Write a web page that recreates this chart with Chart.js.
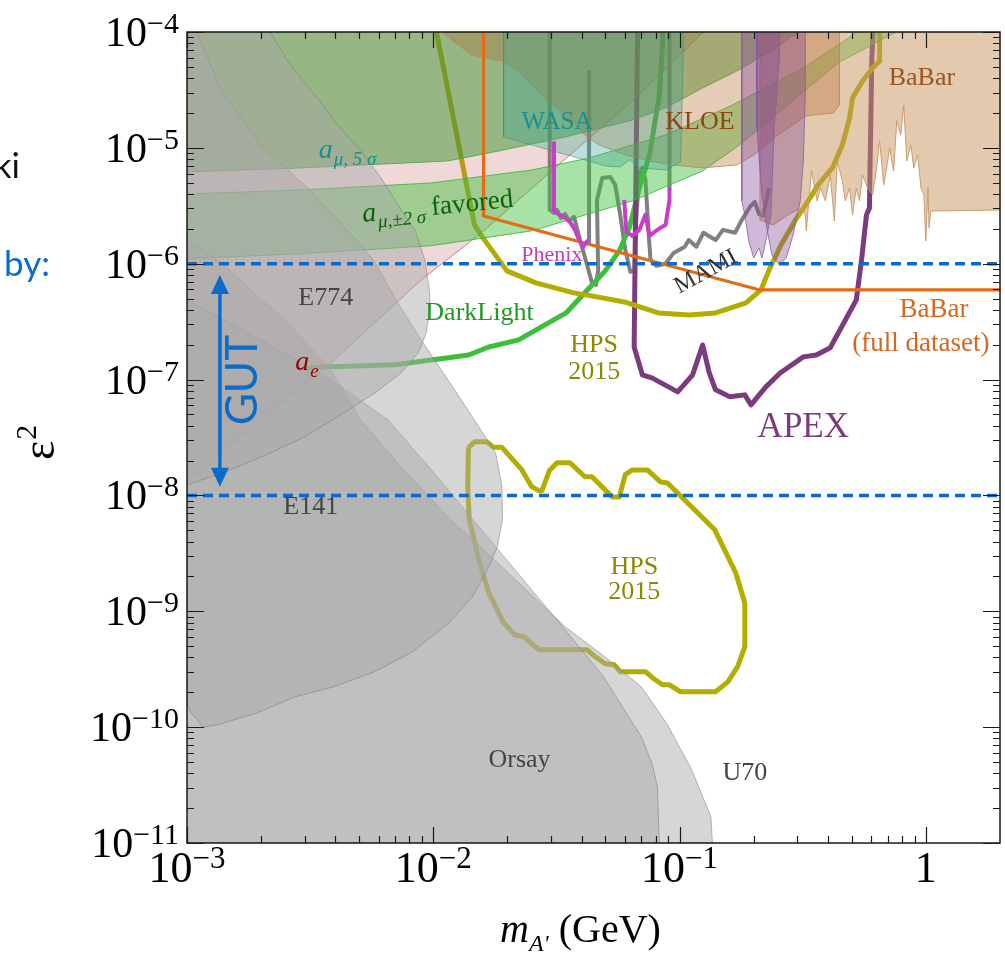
<!DOCTYPE html>
<html>
<head>
<meta charset="utf-8">
<script src="https://cdn.jsdelivr.net/npm/chart.js@4.4.1/dist/chart.umd.min.js"></script>
<style>
  body { margin: 0; background: #fff; }
  canvas { display: block; }
</style>
</head>
<body>
<canvas id="chart" width="1005" height="956"></canvas>
<script>
// ---- axes
const xRange = [1e-3, 2];
const yRange = [1e-11, 1e-4];
const xTickPowers = [-3, -2, -1, 0];
const yTickPowers = [-4, -5, -6, -7, -8, -9, -10, -11];
const gutLevels = [1e-6, 1e-8];

// ---- excluded regions, [mass GeV, eps^2]
const e774 = [[1e-3,1e-4],[2.18e-3,1e-4],[2.56e-3,5.62e-5],[3.30e-3,2.86e-5],[4.09e-3,1.58e-5],[5.08e-3,9.4e-6],[6.14e-3,5.5e-6],[7.20e-3,3.21e-6],[8.45e-3,1.92e-6],[9.27e-3,1.06e-6],[9.63e-3,5.94e-7],[9.73e-3,4.24e-7],[9.36e-3,2.53e-7],[8.69e-3,1.70e-7],[7.40e-3,1.14e-7],[5.80e-3,7.67e-8],[4.09e-3,4.77e-8],[3.0e-3,3.2e-8],[2.18e-3,2.33e-8],[1.5e-3,1.66e-8],[1e-3,1.23e-8]];
const e141 = [[1.10e-3,1e-4],[1.36e-3,3.29e-5],[1.99e-3,1.06e-5],[3.09e-3,4.51e-6],[5.08e-3,1.45e-6],[5.74e-3,1.06e-6],[7.06e-3,4.87e-7],[8.93e-3,2.2e-7],[1.22e-2,8.15e-8],[1.53e-2,3.91e-8],[1.79e-2,2.33e-8],[1.90e-2,1.19e-8],[1.91e-2,6.16e-9],[1.82e-2,3.60e-9],[1.66e-2,2.28e-9],[1.44e-2,1.33e-9],[1.16e-2,7.96e-10],[8.13e-3,4.39e-10],[5.64e-3,2.94e-10],[3.94e-3,2.23e-10],[2.76e-3,1.83e-10],[1.93e-3,1.33e-10],[1.34e-3,1.05e-10],[1.16e-3,1.0e-10],[1.04e-3,1.33e-10],[1e-3,1.62e-10],[1e-3,1e-4]];
const u70 = [[1e-3,1.60e-6],[1.36e-3,1.04e-6],[2.56e-3,3.08e-7],[3.84e-3,1.21e-7],[5.08e-3,4.49e-8],[7.40e-3,1.77e-8],[1.18e-2,6.15e-9],[1.90e-2,2.42e-9],[3.43e-2,7.35e-10],[4.85e-2,4.22e-10],[7.0e-2,2.23e-10],[8.93e-2,1.05e-10],[0.112,4.29e-11],[0.134,1.69e-11],[0.136,1e-11],[1e-3,1e-11]];
const orsay = [[1e-3,4.87e-7],[1.99e-3,2.2e-7],[3.84e-3,9.93e-8],[6.55e-3,4.49e-8],[9.82e-3,1.66e-8],[1.57e-2,5.05e-9],[2.51e-2,1.53e-9],[3.43e-2,6.92e-10],[4.85e-2,2.83e-10],[7.0e-2,8.26e-11],[7.76e-2,4.74e-11],[8.13e-2,3.06e-11],[8.28e-2,1e-11],[1e-3,1e-11]];
const apexTestA = [[0.179,1e-4],[0.179,3.48e-6],[0.184,2.64e-6],[0.191,1.57e-6],[0.200,1.12e-6],[0.210,1.37e-6],[0.216,1.12e-6],[0.224,1.57e-6],[0.235,2.64e-6],[0.242,1.49e-5],[0.254,5.62e-5],[0.256,1e-4]];
const apexTestB = [[0.206,1e-4],[0.206,1.49e-5],[0.216,3.92e-6],[0.226,2.04e-6],[0.237,1.19e-6],[0.254,9.8e-7],[0.271,1.12e-6],[0.289,1.77e-6],[0.309,3.48e-6],[0.318,7.71e-6],[0.324,2.86e-5],[0.324,1e-4]];
const wasa = [[1.93e-2,1e-4],[1.93e-2,1.24e-5],[2.76e-2,1e-5],[4.13e-2,7.87e-6],[4.99e-2,6.98e-6],[5.74e-2,6.84e-6],[6.25e-2,7.87e-6],[6.87e-2,6.71e-6],[8.77e-2,6.44e-6],[0.101,7.55e-6],[0.104,1e-4]];
const kloe = [[1.08e-2,1e-4],[1.43e-2,6.34e-5],[1.90e-2,5.62e-5],[2.22e-2,4.61e-5],[2.76e-2,2.86e-5],[3.43e-2,1.92e-5],[4.13e-2,1.29e-5],[4.71e-2,1.06e-5],[6.02e-2,8.69e-6],[7.55e-2,7.71e-6],[9.36e-2,7.12e-6],[0.124,6.71e-6],[0.171,7.12e-6],[0.200,8.69e-6],[0.251,1.29e-5],[0.324,1.88e-5],[0.421,2.0e-5],[0.446,2.34e-5],[0.446,1e-4]];
const babar = [[2.0,2.91e-6],[1.047,2.85e-6],[1.03,2.04e-6],[1.02,4.51e-6],[1.0,1.57e-6],[0.982,3.92e-6],[0.955,4.51e-6],[0.927,8.69e-6],[0.893,6.71e-6],[0.869,1.06e-5],[0.836,7.71e-6],[0.813,2.34e-5],[0.791,1.29e-5],[0.762,1.71e-5],[0.740,6.32e-6],[0.713,1.0e-5],[0.693,6.71e-6],[0.674,4.79e-6],[0.649,1.15e-5],[0.631,6.71e-6],[0.608,3.92e-6],[0.580,4.51e-6],[0.553,5.83e-6],[0.538,3.48e-6],[0.522,4.51e-6],[0.504,2.64e-6],[0.490,4.51e-6],[0.471,3.48e-6],[0.458,5.18e-6],[0.437,7.71e-6],[0.425,2.34e-6],[0.409,5.83e-6],[0.391,3.48e-6],[0.373,4.51e-6],[0.362,3.48e-6],[0.343,6.32e-6],[0.327,1.92e-6],[0.324,2.64e-6],[0.312,3.03e-6],[0.276,2.64e-6],[0.240,2.16e-6],[0.212,2.39e-6],[0.212,1e-4],[2.0,1e-4]];

// ---- g-2 bands and a_e
const amu5sigma = [[1e-3,6.19e-6],[2.89e-3,6.71e-6],[1.15e-2,7.71e-6],[1.84e-2,9.4e-6],[3.43e-2,1.24e-5],[6.43e-2,1.74e-5],[8.77e-2,2.21e-5],[0.124,3.29e-5],[0.171,4.61e-5],[0.235,6.86e-5],[0.324,1.08e-4],[1e-3,1.08e-4]];
const amuFavUpper = [[1e-3,4.0e-6],[2.89e-3,4.33e-6],[9.82e-3,4.98e-6],[2.51e-2,6.44e-6],[4.29e-2,8.18e-6],[8.77e-2,1.29e-5],[0.164,2.34e-5],[0.318,4.89e-5],[0.558,1.08e-4]];
const amuFavLower = [[1e-3,1.10e-6],[2.89e-3,1.22e-6],[9.82e-3,1.43e-6],[2.51e-2,1.92e-6],[6.43e-2,3.48e-6],[0.124,6.32e-6],[0.171,1.02e-5],[0.235,1.77e-5],[0.324,3.16e-5],[0.446,5.51e-5],[0.813,1.08e-4]];
const aeEdge = [[1e-3,1.31e-8],[3.84e-3,1.39e-7],[8.93e-3,7.25e-7],[1.57e-2,1.85e-6],[3.12e-2,6.71e-6],[6.61e-2,2.70e-5],[0.125,1e-4],[1e-3,1e-4]];

// ---- reach curves
const hpsUpper = [[0.0103,1e-4],[0.0147,2.16e-6],[0.0157,1.74e-6],[0.0199,8.67e-7],[0.0261,6.83e-7],[0.0372,5.6e-7],[0.0462,5.17e-7],[0.0597,4.68e-7],[0.082,3.76e-7],[0.109,3.61e-7],[0.140,3.76e-7],[0.186,4.59e-7],[0.214,5.94e-7],[0.231,8.84e-7],[0.258,1.45e-6],[0.294,2.34e-6],[0.333,3.48e-6],[0.365,4.79e-6],[0.417,6.71e-6],[0.458,1.06e-5],[0.490,1.81e-5],[0.504,2.7e-5],[0.553,3.78e-5],[0.608,4.89e-5],[0.649,5.62e-5],[0.649,1e-4]];
const hpsLower = [[0.0139,2.6e-8],[0.0147,2.9e-8],[0.0165,2.9e-8],[0.0176,2.6e-8],[0.0190,2.6e-8],[0.0229,1.66e-8],[0.0251,1.19e-8],[0.0268,1.1e-8],[0.0276,1.1e-8],[0.0297,1.66e-8],[0.0318,1.91e-8],[0.0359,1.91e-8],[0.0413,1.45e-8],[0.0441,1.45e-8],[0.0533,9.7e-9],[0.0569,9.7e-9],[0.0602,1.51e-8],[0.0643,1.66e-8],[0.074,1.66e-8],[0.0836,1.31e-8],[0.0893,1.28e-8],[0.139,5.05e-9],[0.169,2.15e-9],[0.184,1.18e-9],[0.184,4.94e-10],[0.172,3.32e-10],[0.157,2.46e-10],[0.140,2.02e-10],[0.101,2.02e-10],[0.091,2.32e-10],[0.0852,2.32e-10],[0.0776,2.67e-10],[0.0727,3.01e-10],[0.0574,3.01e-10],[0.0543,3.45e-10],[0.0499,3.52e-10],[0.0454,4.05e-10],[0.0421,4.66e-10],[0.0268,4.66e-10],[0.0233,6.03e-10],[0.0214,6.27e-10],[0.0193,7.96e-10],[0.0168,1.44e-9],[0.0153,2.78e-9],[0.0140,6.16e-9],[0.0138,1.19e-8],[0.0139,2.6e-8]];
const apex = [[0.0675,1e-4],[0.0654,1.91e-7],[0.0706,1.10e-7],[0.0776,1.03e-7],[0.0982,7.83e-8],[0.113,1.10e-7],[0.124,1.99e-7],[0.132,1.14e-7],[0.140,8.15e-8],[0.160,7.1e-8],[0.184,7.38e-8],[0.195,6.05e-8],[0.224,8.65e-8],[0.256,1.14e-7],[0.318,1.57e-7],[0.359,1.63e-7],[0.409,1.88e-7],[0.522,4.87e-7],[0.548,1.08e-6],[0.574,2.64e-6],[0.59,3.03e-6],[0.603,5.62e-5],[0.61,1e-4]];
const darkLight = [[2.94e-3,1.26e-7],[3.84e-3,1.29e-7],[7.0e-3,1.34e-7],[0.0115,1.54e-7],[0.0139,1.63e-7],[0.0168,1.91e-7],[0.0222,2.2e-7],[0.0346,3.76e-7],[0.0441,6.56e-7],[0.0499,8.67e-7],[0.0569,1.29e-6],[0.0625,2.04e-6],[0.0687,4.51e-6],[0.0755,8.69e-6],[0.0828,2.86e-5],[0.0853,7.7e-5],[0.0853,1e-4]];
const babarFull = [[0.016,1e-4],[0.016,2.58e-6],[0.212,5.94e-7],[2.0,5.94e-7]];
const mami = [[0.0297,1e-4],[0.0297,2.91e-6],[0.0309,2.74e-6],[0.0318,2.91e-6],[0.0330,2.48e-6],[0.0343,2.69e-6],[0.0356,2.34e-6],[0.0373,2.54e-6],[0.0394,1.60e-6],[0.0421,9.8e-7],[0.0441,6.83e-7],[0.0458,6.56e-7],[0.0467,8.84e-7],[0.0462,3.55e-6],[0.0485,5.5e-6],[0.0523,5.61e-6],[0.0548,4.79e-6],[0.0574,2.64e-6],[0.0602,1.32e-6],[0.0631,8.5e-7],[0.0655,8.84e-7],[0.0667,2.39e-6],[0.0687,6.19e-6],[0.0706,6.71e-6],[0.0727,5.28e-6],[0.0747,1.96e-6],[0.0762,1.08e-6],[0.0805,9.57e-7],[0.0877,1.0e-6],[0.0946,1.24e-6],[0.105,1.40e-6],[0.109,1.60e-6],[0.117,1.40e-6],[0.125,1.85e-6],[0.140,1.60e-6],[0.150,1.96e-6],[0.168,1.85e-6],[0.179,2.39e-6],[0.193,3.09e-6],[0.202,3.41e-6],[0.210,2.69e-6],[0.218,2.58e-6],[0.231,4.51e-6]];
const mamiStubA = [[0.0429,4.52e-5],[0.0429,1.5e-6]];
const mamiStubB = [[0.0910,1e-4],[0.0910,4.51e-6]];
const phenixA = [[0.0309,1.10e-5],[0.0309,2.91e-6],[0.0321,2.69e-6],[0.0339,2.54e-6],[0.0359,2.29e-6],[0.0376,1.96e-6],[0.0391,1.60e-6],[0.0406,1.40e-6],[0.0425,1.60e-6]];
const phenixB = [[0.0596,3.55e-6],[0.0608,1.88e-6],[0.0643,1.74e-6],[0.0687,1.96e-6],[0.0727,2.64e-6],[0.0755,1.74e-6],[0.0791,1.88e-6],[0.0836,2.04e-6],[0.0877,2.16e-6],[0.0910,3.55e-6],[0.0910,4.51e-6]];

// ---- text placed on the plot (data coords)
const plotLabels = [
  {text: 'WASA', at: [0.0318, 1.67e-5], color: '#17908f', size: 25},
  {text: 'KLOE', at: [0.121, 1.67e-5], color: '#8a4710', size: 26},
  {text: 'BaBar', at: [0.964, 4.01e-5], color: '#9a5520', size: 26},
  {text: 'Phenix', at: [0.0303, 1.19e-6], color: '#c43cc4', size: 22},
  {text: 'MAMI', at: [0.128, 8.5e-7], color: '#333', size: 24, rot: -0.5},
  {text: 'E774', at: [3.66e-3, 5.07e-7], color: '#444', size: 26},
  {text: 'DarkLight', at: [0.0154, 3.76e-7], color: '#1f991f', size: 26},
  {text: 'HPS', at: [0.045, 1.99e-7], color: '#8c8800', size: 26},
  {text: '2015', at: [0.045, 1.16e-7], color: '#8c8800', size: 26},
  {text: 'BaBar', at: [1.08, 3.99e-7], color: '#d2691e', size: 27},
  {text: '(full dataset)', at: [0.955, 2.03e-7], color: '#d2691e', size: 27},
  {text: 'APEX', at: [0.318, 3.83e-8], color: '#7d3b7f', size: 35},
  {text: 'E141', at: [3.18e-3, 7.97e-9], color: '#444', size: 26},
  {text: 'HPS', at: [0.0655, 2.42e-9], color: '#8c8800', size: 26},
  {text: '2015', at: [0.0655, 1.47e-9], color: '#8c8800', size: 26},
  {text: 'Orsay', at: [0.0224, 5.23e-11], color: '#444', size: 26},
  {text: 'U70', at: [0.184, 4.04e-11], color: '#444', size: 26}
];
const gutArrow = {m: 1.36e-3, top: 8.0e-7, bottom: 1.19e-8, textAt: [1.69e-3, 9.9e-8]};

const SERIF = '"Liberation Serif", "Times New Roman", serif';
const SANS = 'Lato, "Open Sans", sans-serif';
const BLUE = '#0a6cc8';

const toPts = arr => arr.map(([m, e]) => ({x: m, y: e}));
function region(data, fill, edge) {
  return {data: toPts(data), fill: 'shape', backgroundColor: fill, borderColor: edge,
          borderWidth: 1, pointRadius: 0, tension: 0};
}
function curve(data, color, width, dash) {
  return {data: toPts(data), fill: false, borderColor: color, borderWidth: width,
          borderDash: dash || [], pointRadius: 0, tension: 0,
          borderJoinStyle: 'round', borderCapStyle: 'butt'};
}

// light translucent grey: lightens and greys out whatever lies below
const grey = 'rgba(168,168,168,0.47)', greyEdge = 'rgba(120,120,120,0.5)';
const datasets = [
  curve([[xRange[0], gutLevels[0]], [xRange[1], gutLevels[0]]], BLUE, 3.5, [10, 6]),
  curve([[xRange[0], gutLevels[1]], [xRange[1], gutLevels[1]]], BLUE, 3.5, [10, 6]),
  curve(phenixA, '#c83cc8', 4),
  curve(phenixB, '#c83cc8', 4),
  curve(babarFull, '#e36c14', 3.2),
  region(e774, grey, greyEdge),
  region(e141, grey, greyEdge),
  region(orsay, grey, greyEdge),
  region(u70, grey, greyEdge),
  region(apexTestA, 'rgba(130,70,150,0.38)', 'rgba(140,90,160,0.8)'),
  region(apexTestB, 'rgba(130,70,150,0.38)', 'rgba(140,90,160,0.8)'),
  region(wasa, 'rgba(60,165,145,0.35)', 'rgba(60,150,120,0.6)'),
  region(kloe, 'rgba(180,110,50,0.35)', 'rgba(190,130,90,0.8)'),
  region(babar, 'rgba(200,150,95,0.5)', 'rgba(200,150,100,0.9)'),
  region(amu5sigma, 'rgba(60,150,50,0.5)', 'rgba(60,170,60,0.8)'),
  region(amuFavUpper.concat(amuFavLower.slice().reverse()), 'rgba(60,190,60,0.45)', 'rgba(50,180,50,0.8)'),
  region(aeEdge, 'rgba(200,100,100,0.25)', 'rgba(190,100,100,0.8)'),
  curve(hpsLower, '#b3ad00', 5),
  curve(hpsUpper, '#b3ad00', 5),
  curve(apex, '#7d3b7f', 5),
  curve(darkLight, '#3cc03c', 5),
  curve(mami, '#808080', 4),
  curve(mamiStubA, '#808080', 4),
  curve(mamiStubB, '#808080', 4)
];

function powerLabel(ctx, p, x, y, align, big, small, raise) {
  ctx.textAlign = 'left';
  ctx.font = `${big}px ${SERIF}`;
  if (p === 0) {
    const w = ctx.measureText('1').width;
    ctx.fillText('1', align === 'right' ? x - w : x - w / 2, y);
    return;
  }
  const base = '10', sup = '\u2212' + Math.abs(p);
  const wb = ctx.measureText(base).width;
  ctx.font = `${small}px ${SERIF}`;
  const ws = ctx.measureText(sup).width;
  const x0 = align === 'right' ? x - wb - ws : x - (wb + ws) / 2;
  ctx.font = `${big}px ${SERIF}`;
  ctx.fillText(base, x0, y);
  ctx.font = `${small}px ${SERIF}`;
  ctx.fillText(sup, x0 + wb, y - raise);
}

function subLabel(ctx, x, y, main, sub, tail, color, rot) {
  ctx.save();
  ctx.translate(x, y);
  ctx.rotate(rot || 0);
  ctx.fillStyle = color;
  ctx.textAlign = 'left';
  ctx.textBaseline = 'alphabetic';
  ctx.font = `italic 28px ${SERIF}`;
  ctx.fillText(main, 0, 0);
  let w = ctx.measureText(main).width;
  ctx.font = `italic 19px ${SERIF}`;
  ctx.fillText(sub, w + 1, 7);
  w += ctx.measureText(sub).width + 1;
  if (tail) {
    ctx.font = `27px ${SERIF}`;
    ctx.fillText(tail, w + 6, 0);
  }
  ctx.restore();
}

const overlay = {
  id: 'overlay',
  afterDatasetsDraw(chart) {
    const {ctx, chartArea: a, scales: {x: xs, y: ys}} = chart;
    const px = v => xs.getPixelForValue(v), py = v => ys.getPixelForValue(v);
    ctx.save();

    // frame and inward ticks
    ctx.strokeStyle = '#1a1a1a';
    ctx.lineWidth = 1.5;
    ctx.strokeRect(a.left, a.top, a.right - a.left, a.bottom - a.top);
    ctx.lineWidth = 1.2;
    ctx.beginPath();
    for (let p = -3; p <= 0; p++) {
      for (let k = 1; k < 10; k++) {
        const v = k * 10 ** p;
        if (v >= xRange[1]) break;
        const x = Math.round(px(v)) + 0.5, len = k === 1 ? 16 : 7;
        ctx.moveTo(x, a.bottom); ctx.lineTo(x, a.bottom - len);
        ctx.moveTo(x, a.top); ctx.lineTo(x, a.top + len);
      }
    }
    for (let p = -11; p <= -4; p++) {
      for (let k = 1; k < 10; k++) {
        if (p === -4 && k > 1) break;
        const y = Math.round(py(k * 10 ** p)) + 0.5, len = k === 1 ? 17 : 7;
        ctx.moveTo(a.left, y); ctx.lineTo(a.left + len, y);
        ctx.moveTo(a.right, y); ctx.lineTo(a.right - len, y);
      }
    }
    ctx.stroke();

    // tick labels
    ctx.fillStyle = '#000';
    ctx.textBaseline = 'alphabetic';
    yTickPowers.forEach(p => powerLabel(ctx, p, 179, py(10 ** p) + 14, 'right', 42, 30, 13));
    xTickPowers.forEach(p => powerLabel(ctx, p, px(10 ** p), 882, 'center', 44, 31, 14));

    // axis titles
    ctx.textAlign = 'left';
    ctx.font = `italic 40px ${SERIF}`;
    ctx.fillText('m', 500, 942);
    let w = ctx.measureText('m').width;
    ctx.font = `italic 24px ${SERIF}`;
    ctx.fillText("A'", 500 + w, 951);
    w += ctx.measureText("A'").width;
    ctx.font = `40px ${SERIF}`;
    ctx.fillText(' (GeV)', 500 + w, 942);

    ctx.save();
    ctx.translate(54, 460);
    ctx.rotate(-Math.PI / 2);
    ctx.font = `46px ${SERIF}`;
    ctx.fillText('\u03B5', 0, 0);
    const we = ctx.measureText('\u03B5').width;
    ctx.font = `30px ${SERIF}`;
    ctx.fillText('2', we + 1, -18);
    ctx.restore();

    // slide fragments at the left edge
    ctx.font = `35px ${SANS}`;
    ctx.fillStyle = '#111';
    ctx.textAlign = 'right';
    ctx.fillText('ki', 20, 178);
    ctx.fillStyle = BLUE;
    ctx.textAlign = 'left';
    ctx.fillText('by:', 4, 276);

    // plot labels
    ctx.textBaseline = 'middle';
    ctx.textAlign = 'center';
    plotLabels.forEach(l => {
      ctx.save();
      ctx.translate(px(l.at[0]), py(l.at[1]));
      if (l.rot) ctx.rotate(l.rot);
      ctx.fillStyle = l.color;
      ctx.font = `${l.size}px ${SERIF}`;
      ctx.fillText(l.text, 0, 0);
      ctx.restore();
    });
    ctx.textBaseline = 'alphabetic';
    subLabel(ctx, px(3.43e-3), py(9.6e-6) + 8, 'a', '\u03BC, 5 \u03C3', '', '#129090', 0);
    subLabel(ctx, px(5.18e-3), py(2.8e-6) + 10, 'a', '\u03BC,\u00B12 \u03C3', 'favored', '#0a640a', -0.1);
    subLabel(ctx, px(2.75e-3), py(1.42e-7) + 8, 'a', 'e', '', '#9a0000', 0);

    // GUT arrow
    const gx = px(gutArrow.m), gt = py(gutArrow.top), gb = py(gutArrow.bottom);
    ctx.strokeStyle = BLUE;
    ctx.fillStyle = BLUE;
    ctx.lineWidth = 3.5;
    ctx.beginPath();
    ctx.moveTo(gx, gt + 14); ctx.lineTo(gx, gb - 14);
    ctx.stroke();
    ctx.beginPath();
    ctx.moveTo(gx, gt); ctx.lineTo(gx - 9, gt + 19); ctx.lineTo(gx + 9, gt + 19); ctx.closePath();
    ctx.moveTo(gx, gb); ctx.lineTo(gx - 9, gb - 19); ctx.lineTo(gx + 9, gb - 19); ctx.closePath();
    ctx.fill();
    ctx.save();
    ctx.translate(px(gutArrow.textAt[0]), py(gutArrow.textAt[1]));
    ctx.rotate(-Math.PI / 2);
    ctx.textAlign = 'center';
    ctx.textBaseline = 'middle';
    ctx.font = `44px ${SANS}`;
    ctx.fillText('GUT', 0, 0);
    ctx.restore();

    ctx.restore();
  }
};

new Chart(document.getElementById('chart'), {
  type: 'line',
  data: {datasets},
  options: {
    responsive: false,
    devicePixelRatio: 1,
    animation: false,
    layout: {padding: {left: 187, right: 5, top: 32, bottom: 113}},
    plugins: {legend: {display: false}, tooltip: {enabled: false}},
    scales: {
      x: {type: 'logarithmic', min: xRange[0], max: xRange[1], display: false},
      y: {type: 'logarithmic', min: yRange[0], max: yRange[1], display: false}
    }
  },
  plugins: [overlay]
});
</script>
</body>
</html>
